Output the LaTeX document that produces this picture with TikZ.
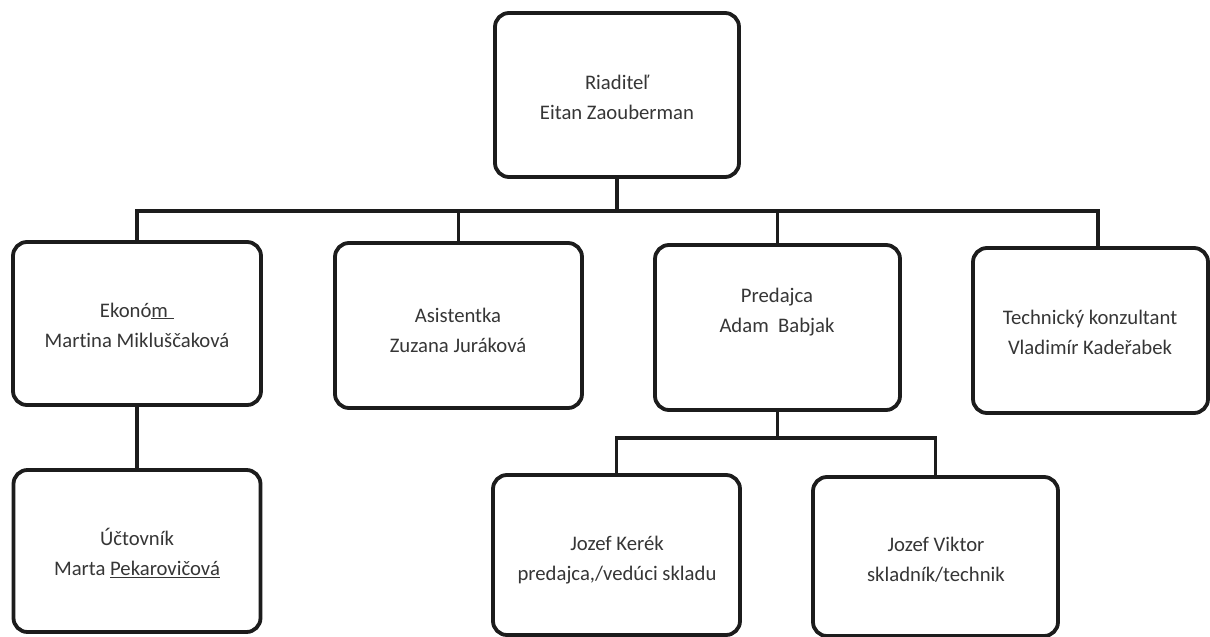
\documentclass[tikz,border=0pt]{standalone}
\usepackage{fontspec}
\setmainfont{Carlito}[Ligatures={NoCommon}]
\definecolor{ink}{HTML}{1C1C1C}
\definecolor{txt}{HTML}{363636}
\begin{document}
\begin{tikzpicture}[x=1pt,y=-1pt,
  box/.style={draw=ink,line width=3.8pt,rounded corners=14pt,fill=white,inner sep=0pt,outer sep=0pt},
  lbl/.style={text=txt,font=\fontsize{20.7}{30}\selectfont,align=center,inner sep=0pt},
  conn/.style={draw=ink,line width=3.2pt}]
\useasboundingbox[fill=white] (0,0) rectangle (1210,637);
% boxes
\node[box,minimum width=244pt,minimum height=164pt] (boss) at (617,95) {};
\node[box,minimum width=248pt,minimum height=163pt] (ekon) at (137,323.5) {};
\node[box,minimum width=247pt,minimum height=165pt] (asist) at (458.5,325.5) {};
\node[box,minimum width=245pt,minimum height=165pt] (pred) at (777.5,327.5) {};
\node[box,minimum width=235pt,minimum height=165pt] (tech) at (1090.5,330.5) {};
\node[box,minimum width=247pt,minimum height=162pt] (ucto) at (137,551) {};
\node[box,minimum width=247pt,minimum height=160pt] (kerek) at (616.5,555) {};
\node[box,minimum width=245pt,minimum height=159pt] (viktor) at (935.5,556.5) {};
% texts
\node[lbl] (tboss) at (617,97) {Riaditeľ\\Eitan Zaouberman};
\node[lbl] (tekon) at (137,325) {Ekonó\underline{m\hspace{6pt}}\\Martina Mikluščaková};
\node[lbl] (tasist) at (458,330) {Asistentka\\Zuzana Juráková};
\node[lbl] (tpred) at (777,312) {Predajca\\Adam\ \ Babjak};
\node[lbl] (ttech) at (1090,332) {Technický konzultant\\Vladimír Kadeřabek};
\node[lbl] (tucto) at (137,553) {Účtovník\\Marta \underline{Pekarovičová}};
\node[lbl] (tkerek) at (617,560) {Jozef Kerék\\predajca,/vedúci skladu};
\node[lbl] (tviktor) at (936,560) {Jozef Viktor\\skladník/technik};
% connectors
\coordinate (bus) at (0,211);
\coordinate (techin) at (1098,248);
\coordinate (bus2) at (0,438);
\draw[conn] (boss.south) -- (boss.south |- bus);
\draw[conn] (ekon.north) -- (ekon.north |- bus) -- (techin |- bus) -- (techin);
\draw[conn] (asist.north) -- (asist.north |- bus);
\draw[conn] (pred.north) -- (pred.north |- bus);
\draw[conn] (ekon.south) -- (ucto.north);
\draw[conn] (pred.south) -- (pred.south |- bus2);
\draw[conn] (kerek.north) -- (kerek.north |- bus2) -- (viktor.north |- bus2) -- (viktor.north);
\end{tikzpicture}
\end{document}
